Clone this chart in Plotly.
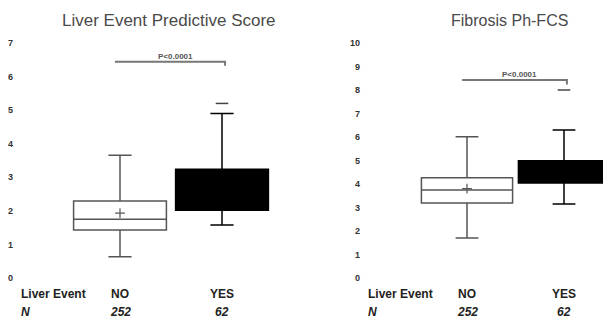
import plotly.graph_objects as go

# ---- data ----
groups = ["NO", "YES"]
group_x = [0, 1]
n_counts = ["252", "62"]
titles = ["Liver Event Predictive Score", "Fibrosis Ph-FCS"]

# Liver Event Predictive Score
lep_lower = [0.63, 1.58]
lep_q1 = [1.43, 2.02]
lep_median = [1.75, 2.62]
lep_q3 = [2.29, 3.24]
lep_upper = [3.66, 4.9]
lep_mean = [1.93, 2.75]
lep_outlier_x = [1]
lep_outlier_y = [5.2]

# Fibrosis Ph-FCS
fcs_lower = [1.70, 3.15]
fcs_q1 = [3.19, 4.04]
fcs_median = [3.74, 4.5]
fcs_q3 = [4.27, 4.99]
fcs_upper = [6.01, 6.3]
fcs_mean = [3.80, 4.55]
fcs_outlier_x = [1]
fcs_outlier_y = [8.0]

sig_text = "P<0.0001"
sig_y = [6.44, 8.43]

lep_ticks = [0, 1, 2, 3, 4, 5, 6, 7]
fcs_ticks = [0, 1, 2, 3, 4, 5, 6, 7, 8, 9, 10]

# page has an 8px body margin; work in reference pixels and shift
OFF = 8
W, H = 611 - OFF, 321 - OFF
top_px, bot_px = 30, 285  # plot area in reference pixels

def px(x):
    return (x - OFF) / W

def py(y):
    # paper y is relative to the plot area
    return (bot_px - y) / (bot_px - top_px)

fig = go.Figure()

fills = ["white", "black"]
lines = ["#555555", "black"]

panels = [
    dict(xa="x", ya="y", lo=lep_lower, q1=lep_q1, med=lep_median, q3=lep_q3, up=lep_upper,
         mean=lep_mean, ox=lep_outlier_x, oy=lep_outlier_y, w=0.91),
    dict(xa="x2", ya="y2", lo=fcs_lower, q1=fcs_q1, med=fcs_median, q3=fcs_q3, up=fcs_upper,
         mean=fcs_mean, ox=fcs_outlier_x, oy=fcs_outlier_y, w=0.94),
]

for p in panels:
    for i in range(2):
        fig.add_trace(go.Box(
            x=[group_x[i]], q1=[p["q1"][i]], median=[p["med"][i]], q3=[p["q3"][i]],
            lowerfence=[p["lo"][i]], upperfence=[p["up"][i]],
            fillcolor=fills[i], line=dict(color=lines[i], width=1.5),
            width=p["w"], whiskerwidth=0.25, xaxis=p["xa"], yaxis=p["ya"],
            showlegend=False, hoverinfo="skip",
        ))
    fig.add_trace(go.Scatter(
        x=[group_x[0]], y=[p["mean"][0]], mode="markers",
        marker=dict(symbol="cross-thin", size=7, line=dict(color="#555555", width=1.2)),
        xaxis=p["xa"], yaxis=p["ya"], showlegend=False, hoverinfo="skip"))
    fig.add_trace(go.Scatter(
        x=p["ox"], y=p["oy"], mode="markers",
        marker=dict(symbol="line-ew", size=9, line=dict(color="#444444", width=1.5)),
        xaxis=p["xa"], yaxis=p["ya"], showlegend=False, hoverinfo="skip"))

# significance brackets
for k, (xa, ya) in enumerate([("x", "y"), ("x2", "y2")]):
    yb = sig_y[k]
    drop = 0.12 if k == 0 else 0.2
    fig.add_shape(type="path", xref=xa, yref=ya,
                  path=f"M -0.05,{yb} L 1.03,{yb} L 1.03,{yb - drop}",
                  line=dict(color="#777777", width=2))
    fig.add_annotation(x=0.54, y=yb, xref=xa, yref=ya, text=f"<b>{sig_text}</b>", showarrow=False,
                       yanchor="bottom", yshift=-1,
                       font=dict(size=8, color="#555555", family="Liberation Sans Narrow, Liberation Sans"))

def yrange(vmax, px_max, px_zero):
    s = (px_zero - px_max) / vmax
    return [-(bot_px - px_zero) / s, vmax + (px_max - top_px) / s]

l_range = yrange(7, 43, 278)
r_range = yrange(10, 43, 278)

l_start, l_end = 14, 292
r_start, r_end = 361, 611
l_dom = [px(l_start), px(l_end)]
r_dom = [px(r_start), 1.0]
l_xr = [-(120 - l_start) / 102, 1 + (l_end - 222) / 102]
r_xr = [-(467 - r_start) / 97, 1 + (r_end - 564) / 97]

tickfont = dict(size=9, color="#333333", family="Liberation Sans")
fig.update_layout(
    width=W, height=H, paper_bgcolor="white", plot_bgcolor="white",
    margin=dict(l=0, r=0, t=top_px - OFF, b=H - (bot_px - OFF)),
    xaxis=dict(domain=l_dom, range=l_xr, visible=False, fixedrange=True),
    xaxis2=dict(domain=r_dom, range=r_xr, visible=False, fixedrange=True),
    yaxis=dict(range=l_range, tickvals=lep_ticks, ticktext=[f"<b>{t}</b>" for t in lep_ticks],
               showgrid=False, zeroline=False, showline=False, ticks="", tickfont=tickfont, anchor="x"),
    yaxis2=dict(range=r_range, tickvals=fcs_ticks, ticktext=[f"<b>{t}</b>" for t in fcs_ticks],
                showgrid=False, zeroline=False, showline=False, ticks="", tickfont=tickfont, anchor="x2"),
)

# titles
title_x = [169, 509]
title_size = [17, 16]
for k in range(2):
    fig.add_annotation(x=px(title_x[k]), y=py(21), xref="paper", yref="paper",
                       text=titles[k], showarrow=False, xanchor="center", yanchor="middle",
                       font=dict(size=title_size[k], color="#4a4a4a", family="Liberation Sans"))

# bottom label rows
row_y = [py(294), py(312)]
lab_x = [px(19), px(366)]
lab_font = dict(size=12, color="#222222", family="Liberation Sans")
for k, xa in enumerate(["x", "x2"]):
    fig.add_annotation(x=lab_x[k], y=row_y[0], xref="paper", yref="paper", text="<b>Liver Event</b>",
                       showarrow=False, xanchor="left", yanchor="middle", font=lab_font)
    fig.add_annotation(x=lab_x[k], y=row_y[1], xref="paper", yref="paper", text="<b><i>N</i></b>",
                       showarrow=False, xanchor="left", yanchor="middle", font=lab_font)
    for i in range(2):
        fig.add_annotation(x=group_x[i], y=row_y[0], xref=xa, yref="paper", text=f"<b>{groups[i]}</b>",
                           showarrow=False, xanchor="center", yanchor="middle", font=lab_font)
        fig.add_annotation(x=group_x[i], y=row_y[1], xref=xa, yref="paper", text=f"<b><i>{n_counts[i]}</i></b>",
                           showarrow=False, xanchor="center", yanchor="middle", font=lab_font)

fig.write_html("out.html")
